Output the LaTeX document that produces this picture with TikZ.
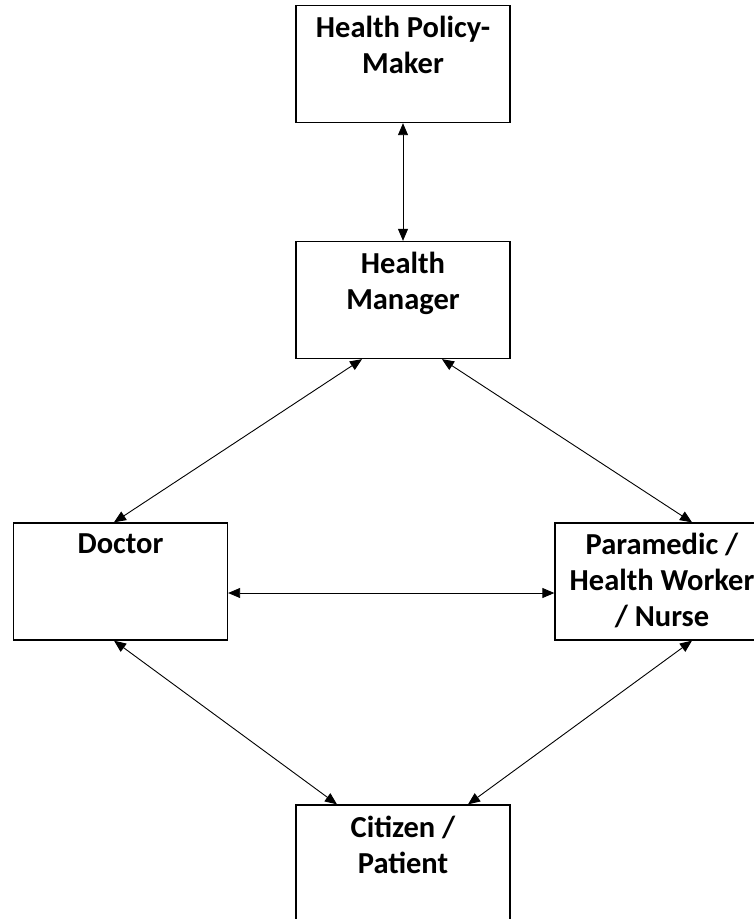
\documentclass[tikz,border=0pt]{standalone}
\usepackage{fontspec}
\setmainfont{Carlito}
\usetikzlibrary{arrows.meta}

\begin{document}
\begin{tikzpicture}[x=1pt, y=-1pt]
			\useasboundingbox (0,0) rectangle (754,919);
			\begin{scope}
			\tikzstyle{box}=[draw, line width=1.3pt, rectangle, minimum width=214pt, minimum height=117pt, inner sep=0pt]
			\tikzstyle{txt}=[anchor=north, yshift=-11pt, align=center, inner sep=0pt, font=\bfseries\fontsize{30.5}{36}\selectfont]
			\tikzstyle{link}=[<->, line width=0.9pt, >={Triangle[length=12pt, width=10pt]}]
				\node[box, label={[txt, name=poltxt]north:Health Policy-\\Maker}] (pol) at (403, 64) {};
				\node[box, label={[txt, name=mgrtxt]north:Health\\Manager}] (mgr) at (403, 300) {};
				\node[box, label={[txt, name=doctxt]north:Doctor}] (doc) at (120.5, 581.5) {};
				\node[box, label={[txt, name=paratxt]north:Paramedic /\\Health Worker\\/ Nurse}] (para) at (662, 581.5) {};
				\node[box, label={[txt, name=cittxt]north:Citizen /\\Patient}] (cit) at (403, 863.5) {};

				\draw[link]  (pol) to (mgr);
				\draw[link]  ([xshift=-41pt]mgr.south) to ([xshift=-6.5pt]doc.north);
				\draw[link]  ([xshift=39pt]mgr.south) to ([xshift=30pt]para.north);
				\draw[link]  ([yshift=-11.5pt]doc.east) to ([yshift=-11.5pt]para.west);
				\draw[link]  ([xshift=-6.5pt]doc.south) to ([xshift=-66pt]cit.north);
				\draw[link]  ([xshift=30pt]para.south) to ([xshift=65pt]cit.north);
			\end{scope}
\end{tikzpicture}
\end{document}
